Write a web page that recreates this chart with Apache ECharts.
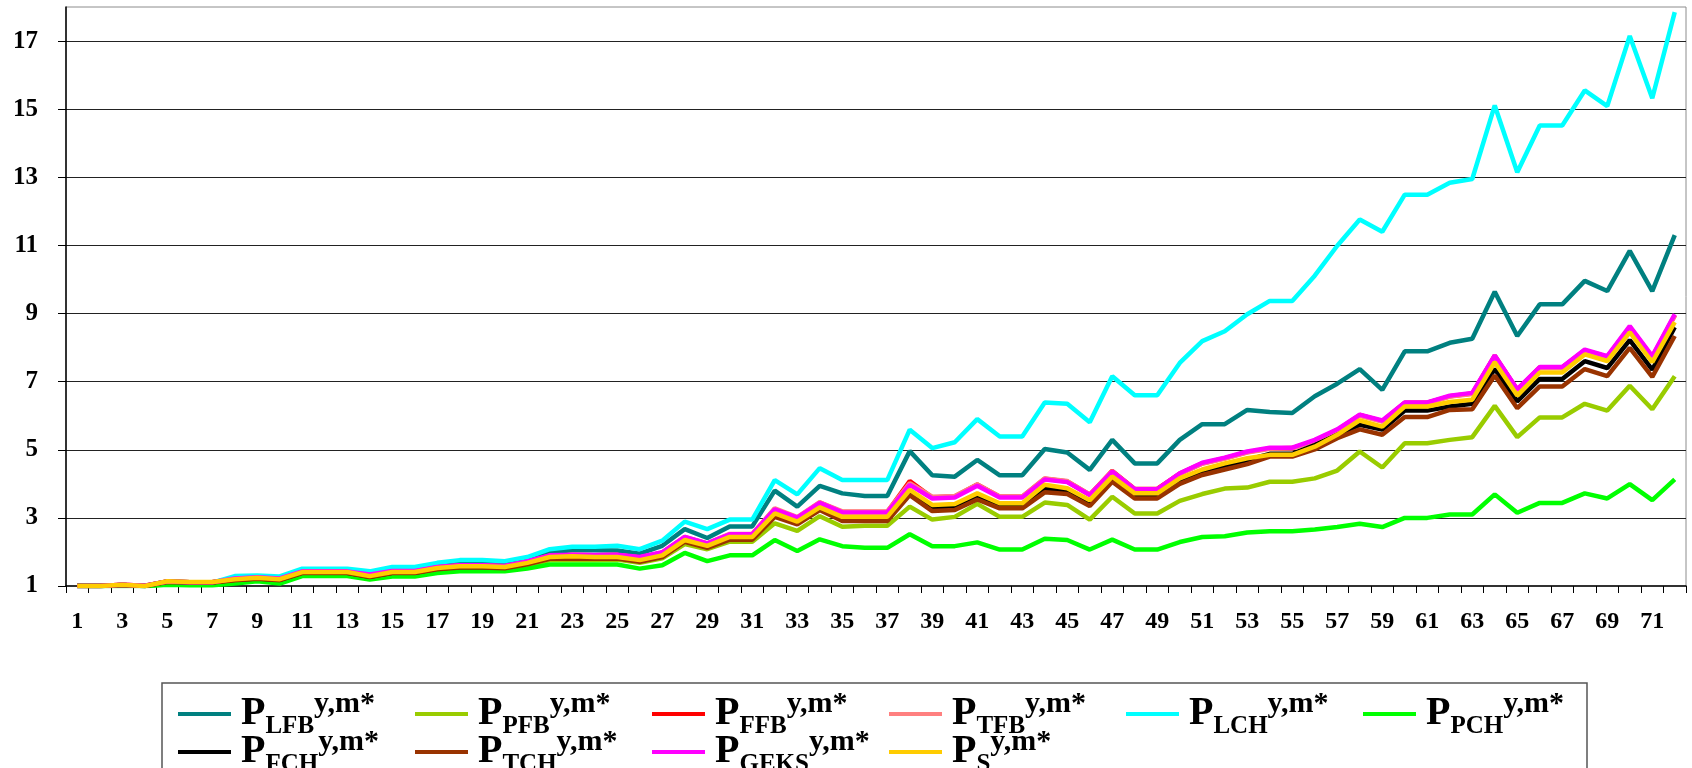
<!DOCTYPE html>
<html>
<head>
<meta charset="utf-8">
<script src="https://cdn.jsdelivr.net/npm/echarts@6/dist/echarts.min.js"></script>
<style>
  html, body { margin: 0; padding: 0; background: #ffffff; }
  #chart { width: 1692px; height: 768px; }
</style>
</head>
<body>
<div id="chart"></div>
<script>
// Periods on the horizontal axis
const categories = [
  '1','2','3','4','5','6','7','8','9','10','11','12','13','14','15','16','17','18',
  '19','20','21','22','23','24','25','26','27','28','29','30','31','32','33','34','35','36',
  '37','38','39','40','41','42','43','44','45','46','47','48','49','50','51','52','53','54',
  '55','56','57','58','59','60','61','62','63','64','65','66','67','68','69','70','71','72'
];

// Value axis range and step
const yMin = 1;
const yMax = 18;
const yStep = 2;

// Index series (subscripts name the index formula)
const lfb = [1.00,1.00,1.03,1.00,1.12,1.10,1.10,1.25,1.27,1.24,1.46,1.46,1.46,1.37,1.50,1.50,1.62,1.68,1.68,1.66,1.78,1.99,2.05,2.05,
  2.04,1.95,2.18,2.67,2.41,2.75,2.75,3.80,3.33,3.94,3.72,3.64,3.64,4.96,4.25,4.21,4.70,4.25,4.25,5.02,4.92,4.41,
  5.29,4.60,4.60,5.29,5.75,5.75,6.17,6.11,6.08,6.57,6.94,7.37,6.76,7.89,7.89,8.14,8.26,9.64,8.34,9.27,9.27,9.96,9.66,10.84,9.66,11.30];
const pfb = [1.00,1.00,1.03,1.00,1.10,1.08,1.08,1.15,1.19,1.15,1.35,1.35,1.35,1.24,1.35,1.35,1.46,1.51,1.51,1.49,1.60,1.76,1.77,1.76,
  1.78,1.68,1.81,2.23,2.08,2.30,2.30,2.84,2.62,3.05,2.74,2.77,2.77,3.33,2.95,3.03,3.41,3.03,3.03,3.45,3.38,2.95,
  3.62,3.13,3.13,3.50,3.70,3.86,3.89,4.06,4.06,4.16,4.39,4.95,4.48,5.19,5.19,5.29,5.37,6.29,5.37,5.95,5.95,6.35,6.15,6.88,6.19,7.16];
const ffb = [1.00,1.00,1.04,1.01,1.13,1.11,1.11,1.21,1.25,1.21,1.42,1.42,1.42,1.32,1.43,1.43,1.55,1.60,1.60,1.58,1.71,1.89,1.91,1.90,
  1.91,1.84,1.98,2.43,2.24,2.51,2.51,3.26,3.00,3.45,3.17,3.17,3.17,4.08,3.60,3.63,3.98,3.62,3.62,4.15,4.07,3.68,
  4.38,3.85,3.85,4.30,4.60,4.75,4.93,5.04,5.05,5.27,5.58,6.02,5.84,6.38,6.38,6.57,6.65,7.76,6.76,7.42,7.42,7.92,7.73,8.60,7.72,8.95];
const tfb = [1.00,1.00,1.04,1.01,1.13,1.11,1.11,1.21,1.25,1.21,1.42,1.42,1.42,1.33,1.43,1.43,1.55,1.60,1.60,1.58,1.71,1.89,1.91,1.90,
  1.91,1.84,1.98,2.44,2.25,2.53,2.53,3.28,3.02,3.46,3.19,3.19,3.19,4.02,3.62,3.64,3.98,3.63,3.63,4.16,4.08,3.69,
  4.37,3.84,3.84,4.29,4.59,4.74,4.92,5.03,5.04,5.26,5.57,6.00,5.83,6.36,6.36,6.56,6.64,7.74,6.74,7.40,7.40,7.90,7.71,8.58,7.70,8.93];
const lch = [1.00,1.00,1.03,1.00,1.12,1.10,1.10,1.29,1.31,1.28,1.51,1.51,1.51,1.43,1.56,1.56,1.68,1.76,1.76,1.73,1.85,2.08,2.15,2.15,
  2.18,2.08,2.33,2.89,2.67,2.95,2.95,4.11,3.69,4.46,4.11,4.11,4.11,5.59,5.05,5.22,5.90,5.39,5.39,6.39,6.35,5.81,
  7.16,6.60,6.60,7.55,8.19,8.48,8.98,9.37,9.37,10.11,10.99,11.76,11.40,12.49,12.49,12.84,12.95,15.11,13.15,14.52,14.52,15.55,15.09,17.15,15.32,17.85];
const pch = [1.00,0.99,1.00,0.99,1.04,1.02,1.02,1.07,1.14,1.07,1.29,1.29,1.29,1.19,1.28,1.28,1.38,1.43,1.43,1.43,1.51,1.63,1.63,1.63,
  1.63,1.51,1.61,1.97,1.73,1.90,1.90,2.35,2.03,2.37,2.17,2.12,2.12,2.52,2.17,2.17,2.28,2.07,2.07,2.39,2.35,2.07,
  2.36,2.07,2.07,2.29,2.44,2.46,2.57,2.61,2.61,2.66,2.73,2.83,2.73,3.00,3.00,3.10,3.10,3.69,3.15,3.44,3.44,3.72,3.57,3.99,3.52,4.13];
const fch = [1.00,1.00,1.03,1.00,1.13,1.11,1.11,1.18,1.22,1.18,1.39,1.39,1.39,1.27,1.39,1.39,1.51,1.56,1.56,1.54,1.66,1.82,1.84,1.82,
  1.82,1.73,1.87,2.32,2.15,2.40,2.40,3.08,2.85,3.27,2.97,2.97,2.97,3.75,3.29,3.32,3.63,3.35,3.35,3.86,3.78,3.43,
  4.13,3.64,3.64,4.06,4.36,4.52,4.70,4.88,4.88,5.14,5.44,5.73,5.59,6.15,6.15,6.27,6.35,7.37,6.42,7.08,7.08,7.60,7.40,8.22,7.35,8.60];
const tch = [1.00,1.00,1.03,1.00,1.12,1.10,1.10,1.17,1.21,1.17,1.38,1.38,1.38,1.26,1.38,1.38,1.49,1.54,1.54,1.52,1.64,1.80,1.81,1.80,
  1.81,1.71,1.85,2.30,2.12,2.36,2.36,3.03,2.81,3.23,2.91,2.91,2.91,3.67,3.20,3.23,3.54,3.28,3.28,3.75,3.70,3.35,
  4.06,3.57,3.57,4.00,4.26,4.42,4.58,4.80,4.80,5.01,5.34,5.60,5.44,5.96,5.96,6.17,6.19,7.18,6.22,6.86,6.86,7.37,7.16,7.99,7.14,8.34];
const geks = [1.00,1.00,1.04,1.01,1.13,1.11,1.11,1.22,1.26,1.22,1.43,1.43,1.43,1.34,1.44,1.44,1.56,1.61,1.61,1.59,1.72,1.90,1.92,1.91,
  1.92,1.85,1.99,2.44,2.25,2.52,2.52,3.25,3.01,3.44,3.16,3.16,3.16,3.97,3.57,3.60,3.94,3.60,3.60,4.13,4.05,3.67,
  4.36,3.84,3.84,4.31,4.62,4.77,4.95,5.06,5.06,5.29,5.60,6.03,5.86,6.39,6.39,6.59,6.67,7.77,6.78,7.43,7.43,7.94,7.75,8.63,7.75,8.98];
const ps = [1.00,1.00,1.04,1.00,1.14,1.12,1.12,1.20,1.24,1.20,1.41,1.41,1.41,1.29,1.41,1.41,1.53,1.58,1.58,1.56,1.68,1.85,1.87,1.85,
  1.85,1.76,1.90,2.35,2.18,2.44,2.44,3.13,2.89,3.31,3.03,3.03,3.03,3.82,3.38,3.41,3.72,3.43,3.43,3.97,3.87,3.52,
  4.21,3.72,3.72,4.16,4.42,4.60,4.75,4.85,4.85,5.09,5.44,5.86,5.68,6.27,6.27,6.40,6.47,7.57,6.59,7.27,7.27,7.80,7.60,8.45,7.57,8.75];

// Legend subscripts, in drawing order
const subscripts = ['LFB','PFB','FFB','TFB','LCH','PCH','FCH','TCH','GEKS','S'];
const superscript = 'y,m*';
const values = [lfb, pfb, ffb, tfb, lch, pch, fch, tch, geks, ps];
const colors = ['#008080','#99CC00','#FF0000','#FF8080','#00FFFF','#00FF00','#000000','#993300','#FF00FF','#FFCC00'];

const FONT = '"Liberation Serif", "Times New Roman", serif';

const series = subscripts.map((sub, i) => ({
  name: 'P_' + sub,
  type: 'line',
  data: values[i],
  symbol: 'none',
  smooth: false,
  lineStyle: { color: colors[i], width: 4.5 },
  itemStyle: { color: colors[i] },
  emphasis: { disabled: true },
  z: 3 + i
}));

// One legend per entry so the entries sit on a fixed column grid
const legends = subscripts.map((sub, i) => ({
  data: ['P_' + sub],
  left: 178 + 237 * (i % 6),
  top: i < 6 ? 689 : 727,
  orient: 'horizontal',
  padding: 0,
  itemGap: 0,
  itemWidth: 53,
  itemHeight: 4,
  icon: 'rect',
  selectedMode: false,
  formatter: name => '{p|P}{sub|' + name.slice(2) + '}{sup|' + superscript + '}',
  textStyle: {
    rich: {
      p:   { fontFamily: FONT, fontWeight: 'bold', fontSize: 40, lineHeight: 50, color: '#000', verticalAlign: 'middle', padding: [0, 0, 0, 5] },
      sub: { fontFamily: FONT, fontWeight: 'bold', fontSize: 25, lineHeight: 29, color: '#000', verticalAlign: 'bottom' },
      sup: { fontFamily: FONT, fontWeight: 'bold', fontSize: 30, lineHeight: 28, color: '#000', verticalAlign: 'top' }
    }
  }
}));

const chart = echarts.init(document.getElementById('chart'), null, { renderer: 'canvas' });

chart.setOption({
  animation: false,
  backgroundColor: '#ffffff',
  grid: {
    left: 66, right: 6, top: 7, bottom: 182,
    show: true, borderColor: '#8c8c8c', borderWidth: 1, backgroundColor: 'transparent'
  },
  xAxis: {
    type: 'category',
    data: categories,
    boundaryGap: true,
    axisLine: { show: true, lineStyle: { color: '#000', width: 1.5 } },
    axisTick: { show: true, interval: 0, length: 7, lineStyle: { color: '#000', width: 1 } },
    axisLabel: { interval: 1, fontFamily: FONT, fontWeight: 'bold', fontSize: 24, color: '#000', margin: 24 },
    splitLine: { show: false }
  },
  yAxis: {
    type: 'value',
    min: yMin,
    max: yMax,
    interval: yStep,
    axisLine: { show: true, lineStyle: { color: '#000', width: 1.5 } },
    axisTick: { show: true, length: 8, lineStyle: { color: '#000', width: 1 } },
    axisLabel: { fontFamily: FONT, fontWeight: 'bold', fontSize: 25, color: '#000', margin: 28, showMaxLabel: false },
    splitLine: { show: true, showMinLine: false, showMaxLine: false, lineStyle: { color: '#222', width: 1 } }
  },
  legend: legends,
  graphic: [{
    type: 'rect',
    shape: { x: 162, y: 683, width: 1425, height: 120 },
    style: { fill: 'transparent', stroke: '#555', lineWidth: 1.5 },
    silent: true,
    z: -1
  }],
  series: series
});
</script>
</body>
</html>
